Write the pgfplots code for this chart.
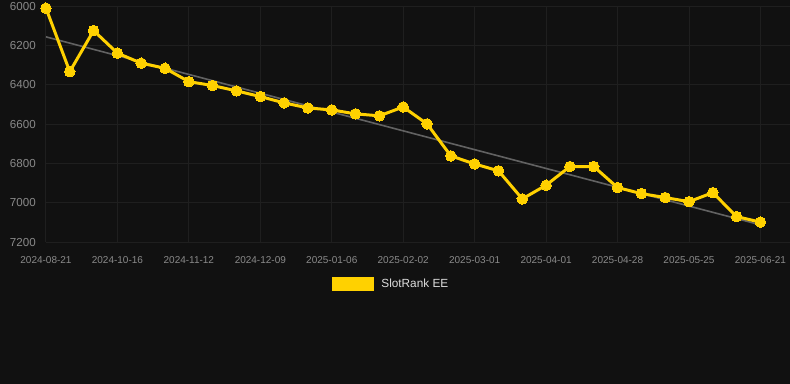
\documentclass[border=0pt]{standalone}
\usepackage{fontspec}
\setmainfont{Liberation Sans}
\usepackage{pgfplots}
\pgfplotsset{compat=1.18}
\definecolor{bgc}{HTML}{111111}
\definecolor{gridc}{HTML}{1F1F1F}
\definecolor{tickc}{HTML}{8A8A8A}
\definecolor{lineyel}{HTML}{FFD100}
\definecolor{trendc}{HTML}{626262}
\definecolor{legtxt}{HTML}{DDDDDD}
\begin{document}
\begin{tikzpicture}
\fill[bgc] (0,0) rectangle (790bp,384bp);
\begin{axis}[
  at={(46bp,141.7bp)}, anchor=south west,
  scale only axis, width=744bp, height=235.9bp,
  xmin=0, xmax=31.22, ymin=6000, ymax=7200, y dir=reverse,
  axis line style={draw=none},
  major tick length=0pt,
  grid=major, grid style={gridc, line width=1bp},
  xtick={0,3,...,30},
  xticklabels={2024-08-21,2024-10-16,2024-11-12,2024-12-09,2025-01-06,2025-02-02,2025-03-01,2025-04-01,2025-04-28,2025-05-25,2025-06-21},
  ytick={6000,6200,...,7200},
  /pgf/number format/assume math mode=true,
  /pgf/number format/1000 sep={},
  xticklabel style={font=\fontsize{10bp}{12bp}\selectfont, text=tickc, anchor=north, inner sep=0pt, yshift=-13.7bp},
  yticklabel style={font=\fontsize{11.6bp}{14bp}\selectfont, text=tickc, anchor=east, inner sep=0pt, xshift=-10bp},
  clip=false,
  legend style={at={(0.4645,-0.1768)}, anchor=center, draw=none, fill=none,
    font=\fontsize{11.8bp}{14bp}\selectfont, text=legtxt, inner sep=0pt,
    /tikz/every odd column/.append style={column sep=5bp}},
  legend image code/.code={\fill[lineyel] (0bp,-5.7bp) rectangle (39bp,5.7bp);},
]
\addplot[trendc, line width=1.6bp, forget plot] coordinates {(0,6155) (30,7112)};
\addplot[lineyel, line width=3bp, mark=*, mark size=5.3bp, mark options={fill=lineyel, draw=lineyel, line width=0bp}] coordinates {
(0,6009) (1,6332) (2,6123) (3,6238) (4,6289) (5,6315) (6,6383) (7,6403)
(8,6430) (9,6459) (10,6491) (11,6517) (12,6527) (13,6547) (14,6557) (15,6512)
(16,6598) (17,6761) (18,6802) (19,6837) (20,6980) (21,6910) (22,6815) (23,6815)
(24,6922) (25,6953) (26,6973) (27,6994) (28,6948) (29,7070) (30,7098)
};
\addlegendentry{SlotRank EE}
\end{axis}
\end{tikzpicture}
\end{document}
